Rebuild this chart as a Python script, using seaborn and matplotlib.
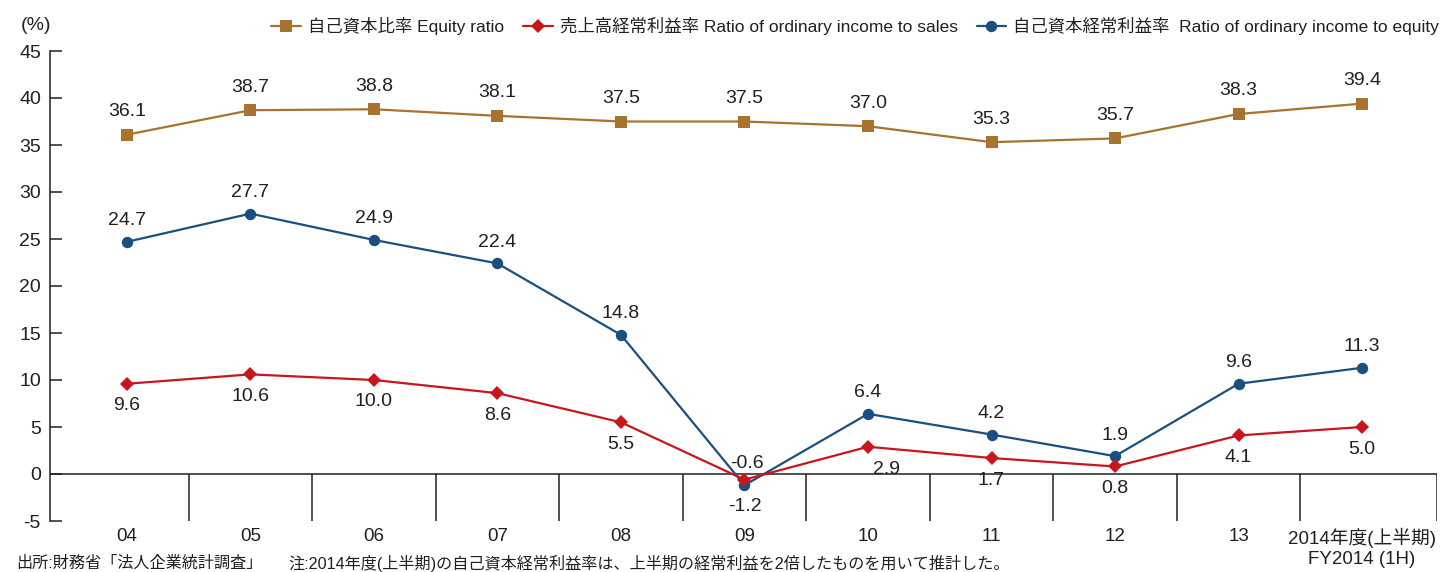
import numpy as np
import pandas as pd
import seaborn as sns
import matplotlib
matplotlib.use('Agg')
from matplotlib import pyplot as plt

# fiscal years (x categories)
years = ['04', '05', '06', '07', '08', '09', '10', '11', '12', '13',
         '2014年度(上半期)\nFY2014 (1H)']
# 自己資本比率
equity_ratio = [36.1, 38.7, 38.8, 38.1, 37.5, 37.5, 37.0, 35.3, 35.7, 38.3, 39.4]
# 売上高経常利益率
sales_ratio = [9.6, 10.6, 10.0, 8.6, 5.5, -0.6, 2.9, 1.7, 0.8, 4.1, 5.0]
# 自己資本経常利益率
roe_ratio = [24.7, 27.7, 24.9, 22.4, 14.8, -1.2, 6.4, 4.2, 1.9, 9.6, 11.3]

names = ['自己資本比率 Equity ratio',
         '売上高経常利益率 Ratio of ordinary income to sales',
         '自己資本経常利益率  Ratio of ordinary income to equity']
colors = ['#a8732f', '#c8161e', '#1b4f80']
ink = '#231f20'

sns.set_theme(style='white')
plt.rcParams['font.family'] = ['Liberation Sans', 'Noto Sans CJK JP']
plt.rcParams['axes.unicode_minus'] = False
plt.rcParams['text.color'] = ink

df = pd.DataFrame({'x': np.arange(len(years)),
                   'equity': equity_ratio,
                   'sales': sales_ratio,
                   'roe': roe_ratio})

fig = plt.figure(figsize=(14.42, 5.72), dpi=100)
ax = fig.add_axes([50/1442, 1-521/572, 1387/1442, 470/572])

sns.lineplot(data=df, x='x', y='equity', ax=ax, color=colors[0], marker='s',
             markersize=8.8, markeredgewidth=0, linewidth=1.6, label=names[0], zorder=3)
sns.lineplot(data=df, x='x', y='roe', ax=ax, color=colors[2], marker='o',
             markersize=8.2, markeredgewidth=0, linewidth=1.6, label=names[2], zorder=3)
sns.lineplot(data=df, x='x', y='sales', ax=ax, color=colors[1], marker='D',
             markersize=7.2, markeredgewidth=0, linewidth=1.6, label=names[1], zorder=4)

# value labels (pixel offsets)
for i, v in enumerate(equity_ratio):
    ax.annotate(f'{v:.1f}', (i, v), xytext=(0, 23), textcoords='offset pixels',
                ha='center', va='center', fontsize=14)
for i, v in enumerate(sales_ratio):
    off = (0, -22)
    if i == 5:
        off = (2, 16)
    elif i == 6:
        off = (19, -23)
    ax.annotate(f'{v:.1f}', (i, v), xytext=off, textcoords='offset pixels',
                ha='center', va='center', fontsize=14)
for i, v in enumerate(roe_ratio):
    off = (0, 21)
    if i == 5:
        off = (0, -21)
    ax.annotate(f'{v:.1f}', (i, v), xytext=off, textcoords='offset pixels',
                ha='center', va='center', fontsize=14)

ax.set_xlim(-0.623, 10.607)
ax.set_ylim(-5, 45)
ax.set_yticks(range(-5, 50, 5))
ax.set_xticks(df['x'])
ax.set_xticklabels(years)
ax.set_xlabel('')
ax.set_ylabel('')

# zero line and category separators
ax.axhline(0, color=ink, lw=1.1, zorder=1)
seps = list(np.arange(0.5, len(years) - 1, 1)) + [ax.get_xlim()[1]]
ax.vlines(seps, -5, 0, color=ink, lw=1.1, zorder=1)

for s in ['top', 'right', 'bottom']:
    ax.spines[s].set_visible(False)
ax.spines['left'].set_color(ink)
ax.spines['left'].set_linewidth(1.1)
ax.tick_params(axis='y', direction='in', length=8.5, width=1.1, pad=6.5,
               labelsize=14, colors=ink, left=True)
ax.tick_params(axis='x', length=0, pad=5, labelsize=13.5, colors=ink)

fig.text(21/1442, 1-25/572, '(%)', fontsize=14, ha='left', va='center')

handles, labels = ax.get_legend_handles_labels()
ax.get_legend().remove()
order = [labels.index(n) for n in names]
fig.legend([handles[k] for k in order], [labels[k] for k in order], ncol=3,
           loc='center right', bbox_to_anchor=(1439/1442, 1-26/572), frameon=False,
           fontsize=12.5, handlelength=1.7, handletextpad=0.4, columnspacing=1.1,
           borderaxespad=0, borderpad=0)

fig.text(16/1442, 1-563/572, '出所:財務省「法人企業統計調査」', fontsize=11.6, ha='left', va='center')
fig.text(288/1442, 1-563/572,
         '注:2014年度(上半期)の自己資本経常利益率は、上半期の経常利益を2倍したものを用いて推計した。',
         fontsize=11.6, ha='left', va='center')

fig.savefig('out.png', dpi=100)
